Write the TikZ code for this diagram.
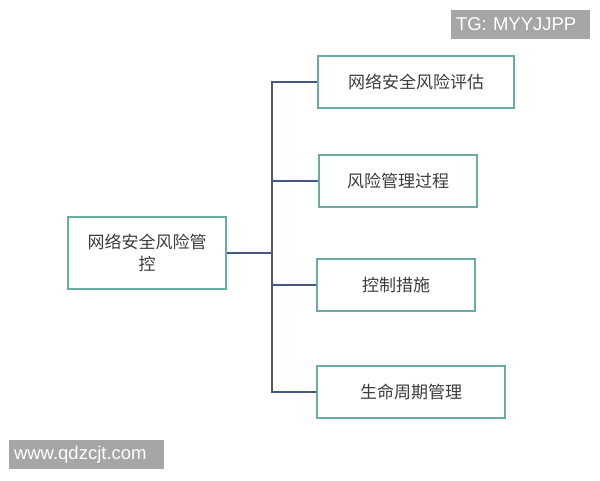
\documentclass[tikz,border=0pt]{standalone}
\usepackage{fontspec}
\setmainfont{Liberation Sans}
\newfontfamily\cjk{Noto Sans CJK SC}
\usetikzlibrary{positioning}
\definecolor{boxline}{RGB}{105,172,165}
\definecolor{linkline}{RGB}{72,88,128}
\definecolor{boxtext}{RGB}{60,60,60}
\definecolor{stampfill}{RGB}{166,166,166}

\begin{document}
\begin{tikzpicture}[x=1pt, y=-1pt,
  item/.style={draw=boxline, line width=1.5pt, minimum height=52pt, inner sep=0pt,
    font=\cjk\fontsize{17}{22}\selectfont, text=boxtext, align=center},
  link/.style={draw=linkline, line width=1.2pt},
  stamp/.style={fill=stampfill, text=white, minimum height=29pt, inner xsep=5pt,
    align=left, font=\fontsize{18.5}{20}\selectfont}]
\useasboundingbox (0,0) rectangle (600,480);
\node[item, minimum width=158pt, minimum height=72pt] (root) at (147,253) {网络安全风险管\\控};
\node[item, minimum width=196pt] (eval) at (416,82) {网络安全风险评估};
\node[item, minimum width=158pt] (proc) at (398,181) {风险管理过程};
\node[item, minimum width=158pt] (ctrl) at (396,285) {控制措施};
\node[item, minimum width=188pt] (life) at (411,392) {生命周期管理};
\coordinate (trunk) at (272,253);
\path[link] (root.east) -- (trunk)
  (trunk) |- (eval.west)
  (trunk) |- (proc.west)
  (trunk) |- (ctrl.west)
  (trunk) |- (life.west);
\node[stamp, text width=129pt] (tg) at (520.5,24.5) {TG: MYYJJPP};
\node[stamp, text width=145pt] (site) at (86.5,454.5) {www.qdzcjt.com};
\end{tikzpicture}
\end{document}
